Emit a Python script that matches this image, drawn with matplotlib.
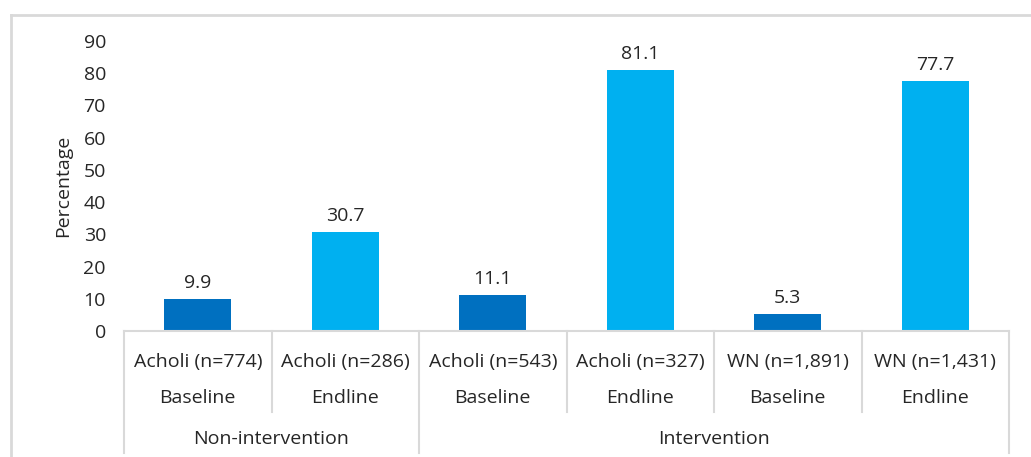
import matplotlib.pyplot as plt
import matplotlib.transforms as mtransforms
from matplotlib.lines import Line2D

plt.rcParams['font.family'] = ['Open Sans', 'DejaVu Sans']

# survey groups, left to right
sites = ["Acholi (n=774)", "Acholi (n=286)", "Acholi (n=543)", "Acholi (n=327)",
         "WN (n=1,891)", "WN (n=1,431)"]
rounds = ["Baseline", "Endline", "Baseline", "Endline", "Baseline", "Endline"]
arms = ["Non-intervention", "Intervention"]
arm_sizes = [2, 4]
pct = [9.9, 30.7, 11.1, 81.1, 5.3, 77.7]

dark = "#0070C0"
light = "#00B0F0"
txt = "#262626"
grid = "#D9D9D9"
fs = 14

fig = plt.figure(figsize=(10.31, 4.57), dpi=100)
ax = fig.add_axes([0.1203, 0.2757, 0.8584, 0.6346])

x = list(range(len(pct)))
colors = [dark if r == "Baseline" else light for r in rounds]
bars = ax.bar(x, pct, width=0.455, color=colors, zorder=2)
for b, v in zip(bars, pct):
    ax.annotate(f"{v:.1f}", (b.get_x() + b.get_width() / 2, v),
                xytext=(0, 5), textcoords="offset points",
                ha="center", va="bottom", fontsize=fs, color=txt)

ax.set_xlim(-0.5, len(pct) - 0.5)
ax.set_ylim(0, 90)
ax.set_yticks(range(0, 91, 10))
ax.tick_params(axis="y", length=0, pad=13, labelsize=fs, labelcolor=txt)
ax.set_xticks([])
ax.set_ylabel("Percentage", fontsize=fs, color=txt, labelpad=8)

for s in ["left", "right", "top"]:
    ax.spines[s].set_visible(False)
ax.spines["bottom"].set_color(grid)
ax.spines["bottom"].set_linewidth(1.5)

# multi-level category axis
trans = mtransforms.blended_transform_factory(ax.transData, ax.transAxes)
for i in x:
    ax.text(i, -0.107, sites[i], transform=trans, ha="center", va="center",
            fontsize=fs, color=txt)
    ax.text(i, -0.231, rounds[i], transform=trans, ha="center", va="center",
            fontsize=fs, color=txt)

outer = [-0.5]
start = -0.5
for name, n in zip(arms, arm_sizes):
    ax.text(start + n / 2, -0.372, name, transform=trans, ha="center",
            va="center", fontsize=fs, color=txt)
    start += n
    outer.append(start)

for b in range(len(pct) + 1):
    edge = b - 0.5
    low = -0.421 if edge in outer else -0.279
    ax.add_line(Line2D([edge, edge], [0, low], transform=trans, color=grid,
                       lw=1.5, clip_on=False))

# chart frame
fig.add_artist(Line2D([11 / 1031, 11 / 1031], [0, 1 - 15 / 457],
                      transform=fig.transFigure, color=grid, lw=2))
fig.add_artist(Line2D([11 / 1031, 1], [1 - 15 / 457, 1 - 15 / 457],
                      transform=fig.transFigure, color=grid, lw=2))

fig.savefig("out.png", dpi=100)
